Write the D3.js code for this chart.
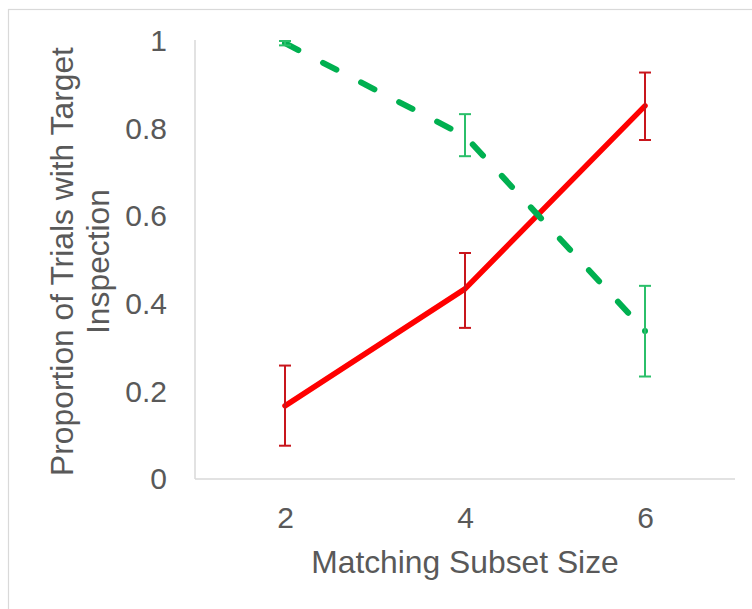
<!DOCTYPE html>
<html>
<head>
<meta charset="utf-8">
<script src="https://cdn.jsdelivr.net/npm/d3@7"></script>
<style>
  html, body { margin: 0; padding: 0; background: #fff; }
  svg { display: block; }
  text { font-family: "Liberation Sans", Arial, sans-serif; fill: #595959; }
</style>
</head>
<body>
<svg id="chart" width="752" height="609"></svg>
<script>
// ---- data ----
const categories = ["2", "4", "6"];
const redMean  = [0.167, 0.434, 0.852];
const redLow   = [0.076, 0.345, 0.774];
const redHigh  = [0.259, 0.516, 0.928];
const greenMean = [0.995, 0.783, 0.338];
const greenLow  = [0.990, 0.737, 0.234];
const greenHigh = [1.000, 0.833, 0.441];
const yTicks = [0, 0.2, 0.4, 0.6, 0.8, 1];
const yTickLabels = ["0", "0.2", "0.4", "0.6", "0.8", "1"];
const xTitle = "Matching Subset Size";
const yTitleLines = ["Proportion of Trials with Target", "Inspection"];

// ---- layout ----
const svg = d3.select("#chart");
const plotLeft = 195, plotRight = 735, plotTop = 41, plotBottom = 479;

// outer frame
svg.append("rect")
  .attr("x", 8.5).attr("y", 9.5)
  .attr("width", 800).attr("height", 700)
  .attr("fill", "none").attr("stroke", "#d9d9d9").attr("stroke-width", 1.2);

const x = d3.scalePoint().domain(categories).range([plotLeft, plotRight]).padding(0.5);
const y = d3.scaleLinear().domain([0, 1]).range([plotBottom, plotTop]);

// axes lines
svg.append("line").attr("x1", plotLeft).attr("x2", plotLeft).attr("y1", y(1) - 1).attr("y2", plotBottom)
  .attr("stroke", "#d9d9d9").attr("stroke-width", 1.5);
svg.append("line").attr("x1", plotLeft).attr("x2", plotRight).attr("y1", plotBottom).attr("y2", plotBottom)
  .attr("stroke", "#d9d9d9").attr("stroke-width", 1.5);

// y tick labels
const yAxis = d3.axisLeft(y).tickValues(yTicks)
  .tickFormat((d, i) => yTickLabels[i]).tickSize(0).tickPadding(0);
const gy = svg.append("g").attr("transform", `translate(167,0)`).call(yAxis);
gy.select(".domain").remove();
gy.selectAll("text").style("font-size", "30px").attr("fill", "#595959")
  .attr("font-family", "Liberation Sans, Arial, sans-serif");

// x tick labels
const xAxis = d3.axisBottom(x).tickSize(0).tickPadding(0);
const gx = svg.append("g").attr("transform", `translate(0,506)`).call(xAxis);
gx.select(".domain").remove();
gx.selectAll("text").style("font-size", "30px").attr("fill", "#595959")
  .attr("dy", "0.72em")
  .attr("font-family", "Liberation Sans, Arial, sans-serif");

// titles
svg.append("text").attr("x", (plotLeft + plotRight) / 2).attr("y", 573)
  .attr("text-anchor", "middle").style("font-size", "31.8px").text(xTitle);
const yt = [73, 109];
yTitleLines.forEach((t, i) => {
  svg.append("text")
    .attr("transform", `translate(${yt[i]},261.5) rotate(-90)`)
    .attr("text-anchor", "middle").style("font-size", "31.8px").text(t);
});

// lines
const line = d3.line().x(d => x(d.c)).y(d => y(d.v));
const redData = categories.map((c, i) => ({c, v: redMean[i]}));
const greenData = categories.map((c, i) => ({c, v: greenMean[i]}));

svg.append("path").datum(redData).attr("d", line)
  .attr("fill", "none").attr("stroke", "#FF0000").attr("stroke-width", 5.5)
  .attr("stroke-linecap", "round").attr("stroke-linejoin", "round");

svg.append("path").datum(greenData).attr("d", line)
  .attr("fill", "none").attr("stroke", "#00B050").attr("stroke-width", 6)
  .attr("stroke-linecap", "round").attr("stroke-linejoin", "round")
  .attr("stroke-dasharray", "15,27.8");

// end marker dot for green at last point
svg.append("circle").attr("cx", x(categories[2])).attr("cy", y(greenMean[2]))
  .attr("r", 3).attr("fill", "#00B050");

// error bars
function errBars(low, high, color) {
  const g = svg.append("g").attr("stroke", color).attr("stroke-width", 2).attr("fill", "none");
  categories.forEach((c, i) => {
    const cx = x(c);
    g.append("line").attr("x1", cx).attr("x2", cx).attr("y1", y(low[i])).attr("y2", y(high[i]));
    g.append("line").attr("x1", cx - 6).attr("x2", cx + 6).attr("y1", y(low[i])).attr("y2", y(low[i]));
    g.append("line").attr("x1", cx - 6).attr("x2", cx + 6).attr("y1", y(high[i])).attr("y2", y(high[i]));
  });
}
errBars(redLow, redHigh, "#C8161D");
errBars(greenLow, greenHigh, "#2BBF6A");
</script>
</body>
</html>
